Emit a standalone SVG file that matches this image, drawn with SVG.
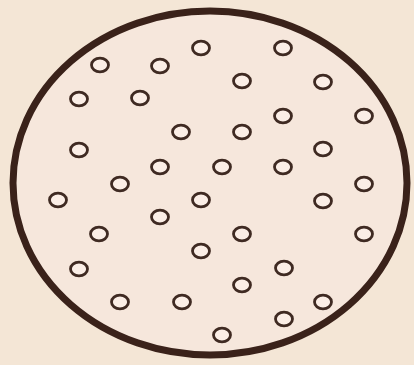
<svg xmlns="http://www.w3.org/2000/svg" width="414" height="365" viewBox="0 0 414 365">
<style>
.dot{fill:#fbeee6;stroke:#3f2a22;stroke-width:2.8}
</style>
<rect width="414" height="365" fill="#f4e6d6"/>
<g id="outer">
<ellipse cx="210" cy="183" rx="197" ry="172" fill="#f6e7dc" stroke="#3a221a" stroke-width="7"/>
</g>
<g id="dots">
<ellipse class="dot" cx="100" cy="65" rx="8.5" ry="6.8"/>
<ellipse class="dot" cx="160" cy="66" rx="8.5" ry="6.8"/>
<ellipse class="dot" cx="201" cy="48" rx="8.5" ry="6.8"/>
<ellipse class="dot" cx="283" cy="48" rx="8.5" ry="6.8"/>
<ellipse class="dot" cx="242" cy="81" rx="8.5" ry="6.8"/>
<ellipse class="dot" cx="323" cy="82" rx="8.5" ry="6.8"/>
<ellipse class="dot" cx="79" cy="99" rx="8.5" ry="6.8"/>
<ellipse class="dot" cx="140" cy="98" rx="8.5" ry="6.8"/>
<ellipse class="dot" cx="364" cy="116" rx="8.5" ry="6.8"/>
<ellipse class="dot" cx="283" cy="116" rx="8.5" ry="6.8"/>
<ellipse class="dot" cx="181" cy="132" rx="8.5" ry="6.8"/>
<ellipse class="dot" cx="242" cy="132" rx="8.5" ry="6.8"/>
<ellipse class="dot" cx="79" cy="150" rx="8.5" ry="6.8"/>
<ellipse class="dot" cx="323" cy="149" rx="8.5" ry="6.8"/>
<ellipse class="dot" cx="160" cy="167" rx="8.5" ry="6.8"/>
<ellipse class="dot" cx="222" cy="167" rx="8.5" ry="6.8"/>
<ellipse class="dot" cx="283" cy="167" rx="8.5" ry="6.8"/>
<ellipse class="dot" cx="120" cy="184" rx="8.5" ry="6.8"/>
<ellipse class="dot" cx="364" cy="184" rx="8.5" ry="6.8"/>
<ellipse class="dot" cx="58" cy="200" rx="8.5" ry="6.8"/>
<ellipse class="dot" cx="201" cy="200" rx="8.5" ry="6.8"/>
<ellipse class="dot" cx="323" cy="201" rx="8.5" ry="6.8"/>
<ellipse class="dot" cx="160" cy="217" rx="8.5" ry="6.8"/>
<ellipse class="dot" cx="99" cy="234" rx="8.5" ry="6.8"/>
<ellipse class="dot" cx="242" cy="234" rx="8.5" ry="6.8"/>
<ellipse class="dot" cx="364" cy="234" rx="8.5" ry="6.8"/>
<ellipse class="dot" cx="201" cy="251" rx="8.5" ry="6.8"/>
<ellipse class="dot" cx="79" cy="269" rx="8.5" ry="6.8"/>
<ellipse class="dot" cx="284" cy="268" rx="8.5" ry="6.8"/>
<ellipse class="dot" cx="242" cy="285" rx="8.5" ry="6.8"/>
<ellipse class="dot" cx="120" cy="302" rx="8.5" ry="6.8"/>
<ellipse class="dot" cx="182" cy="302" rx="8.5" ry="6.8"/>
<ellipse class="dot" cx="323" cy="302" rx="8.5" ry="6.8"/>
<ellipse class="dot" cx="284" cy="319" rx="8.5" ry="6.8"/>
<ellipse class="dot" cx="222" cy="335" rx="8.5" ry="6.8"/>
</g>
</svg>
